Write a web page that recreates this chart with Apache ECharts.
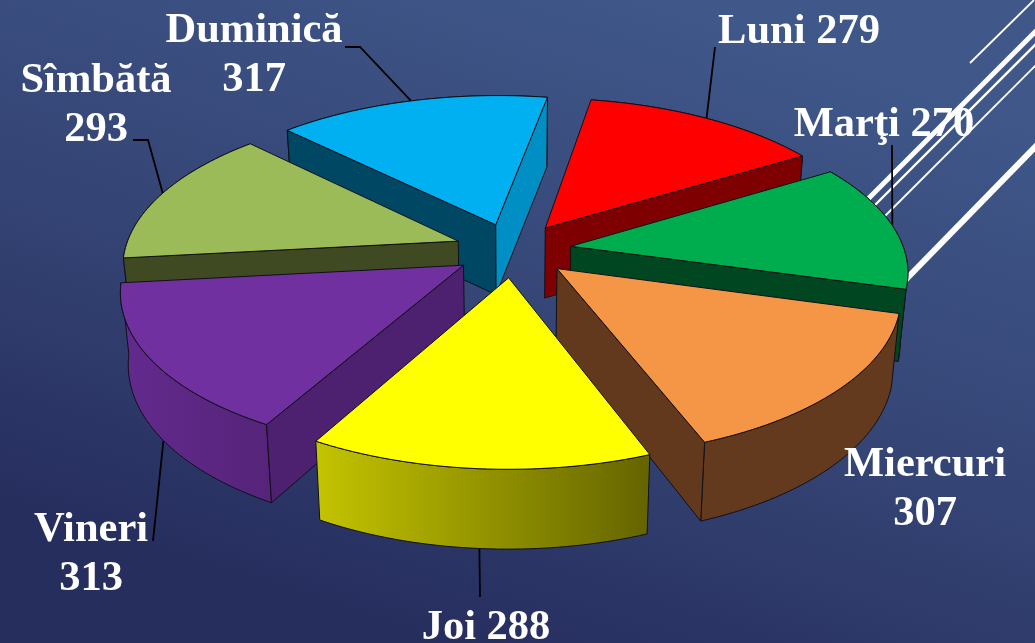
<!DOCTYPE html>
<html>
<head>
<meta charset="utf-8">
<style>html,body{margin:0;padding:0;background:#2f3f70}#c{width:1035px;height:643px}</style>
<script src="https://cdn.jsdelivr.net/npm/echarts@6/dist/echarts.min.js"></script>
</head>
<body>
<div id="c"></div>
<script>
const categories = ['Luni', 'Marţi', 'Miercuri', 'Joi', 'Vineri', 'Sîmbătă', 'Duminică'];
const values = [279, 270, 307, 288, 313, 293, 317];
const labelBreaks = [' ', ' ', '\n', ' ', '\n', '\n', '\n'];

const topColors = ['#ff0000', '#00ad4e', '#f49646', '#ffff00', '#7030a0', '#9bbb59', '#00b0f0'];
const cutColors = ['#7f0000', '#004620', '#63391e', '#808000', '#4d2070', '#404a22', '#004763'];
const cutEndColors = ['#7f0000', '#004620', '#63391e', '#808000', '#4d2070', '#404a22', '#008fc4'];
const wallLeftColors = ['#7f0000', '#006d3a', '#643a1f', '#c4c400', '#622a8e', '#505c2c', '#0090c6'];
const wallRightColors = ['#7f0000', '#006d3a', '#643a1f', '#646400', '#56247a', '#404a22', '#0080b0'];

const labelCenters = [[799, 32], [884, 125], [925, 490], [486, 628], [91, 555], [96, 106], [254, 56]];
const leaderStarts = [[[715, 47]], [[892, 145]], null, [[480, 597]], [[153, 541]], [[133, 140], [148, 140]], [[345, 47], [360, 47]]];
const leaderDepth = [0, 0, 0, 1, 1, 0, 0];
const leaderAngleShift = [0, 0, 0, 0, -1.5, 0, 0];

const START_DEG = 10, CX = 513, CY = 250, SX = 390, SY = 181, PERSP = 0.17;
const RADIUS = 0.855, EXPLODE = 0.15, HEIGHT = 70, FRONT_GROW = 0.14, TAPER = 0.02;

const total = values.reduce((a, b) => a + b, 0);
const starts = [];
values.reduce((acc, v, i) => { starts[i] = acc; return acc + v / total * 360; }, START_DEG);

function project(x, y, z) {
  const w = 1 + PERSP * y;
  return [CX + SX * x / w * (1 - TAPER * z), CY - SY * y / w + HEIGHT * z * (1 + FRONT_GROW * Math.max(0, -y))];
}
function dir(deg) { const r = deg * Math.PI / 180; return [Math.sin(r), Math.cos(r)]; }

function sliceGeom(i, value) {
  const a0 = starts[i], a1 = a0 + value / total * 360, mid = (a0 + a1) / 2;
  const m = dir(mid), ox = m[0] * EXPLODE, oy = m[1] * EXPLODE;
  const arc = z => {
    const out = [];
    for (let k = 0; k <= 40; k++) {
      const d = dir(a0 + (a1 - a0) * k / 40);
      out.push(project(ox + d[0] * RADIUS, oy + d[1] * RADIUS, z));
    }
    return out;
  };
  return { ox, oy, m, mid, top: arc(0), bottom: arc(1), apex: project(ox, oy, 0), apexB: project(ox, oy, 1) };
}

const stroke = { stroke: '#101018', lineWidth: 1, lineJoin: 'round' };
function poly(points, fill) { return { type: 'polygon', shape: { points }, style: Object.assign({ fill }, stroke) }; }

function renderItem(params, api) {
  const i = api.value(0), value = api.value(1);
  const g = sliceGeom(i, value);
  const children = [];
  const pts = g.top, ptsB = g.bottom, Ps = pts[0], Pe = pts[pts.length - 1], PsB = ptsB[0], PeB = ptsB[ptsB.length - 1];

  // leader line below the slice
  if (leaderStarts[i]) {
    const d = dir(g.mid + leaderAngleShift[i]);
    const end = project(g.ox + d[0] * RADIUS, g.oy + d[1] * RADIUS, leaderDepth[i]);
    children.push({ type: 'polyline', shape: { points: leaderStarts[i].concat([end]) }, style: { stroke: '#000', lineWidth: 1.8, fill: 'none' } });
  }

  const xs = pts.map(p => p[0]);
  children.push(poly(pts.concat(ptsB.slice().reverse()), {
    type: 'linear', x: Math.min.apply(null, xs), y: 0, x2: Math.max.apply(null, xs), y2: 0, global: true,
    colorStops: [{ offset: 0, color: wallLeftColors[i] }, { offset: 1, color: wallRightColors[i] }]
  }));
  if (Ps[0] < g.apex[0]) children.push(poly([g.apex, Ps, PsB, g.apexB], cutColors[i]));
  if (g.apex[0] < Pe[0]) children.push(poly([g.apex, Pe, PeB, g.apexB], cutEndColors[i]));
  children.push(poly([g.apex].concat(pts), topColors[i]));

  const c = labelCenters[i];
  children.push({
    type: 'text', z2: 100,
    style: {
      x: c[0], y: c[1], text: categories[i] + labelBreaks[i] + value,
      font: 'bold 42.5px "Liberation Serif", "Times New Roman", serif', fill: '#ffffff',
      align: 'center', verticalAlign: 'middle', lineHeight: 49
    }
  });
  return { type: 'group', children };
}

// back slices first so that front slices cover them
const drawOrder = categories.map((_, i) => i).sort((a, b) =>
  sliceGeom(b, values[b]).m[1] - sliceGeom(a, values[a]).m[1]);
const seriesData = drawOrder.map(i => [i, values[i]]);

const chart = echarts.init(document.getElementById('c'), null, { renderer: 'canvas' });
const deco = [
  [970, 63, 1034, 0, 1.8], [840, 227, 1040, 27, 5], [850, 230, 1040, 40, 2.4],
  [860, 241, 1040, 61, 1.9], [880, 306, 1040, 142, 6]
];
chart.setOption({
  animation: false,
  backgroundColor: {
    type: 'linear', x: 0.62, y: 0, x2: 0.42, y2: 1,
    colorStops: [{ offset: 0, color: '#3f5789' }, { offset: 0.55, color: '#344474' }, { offset: 1, color: '#262e5e' }]
  },
  graphic: deco.map(d => ({
    type: 'line', silent: true, z: 0,
    shape: { x1: d[0], y1: d[1], x2: d[2], y2: d[3] },
    style: { stroke: '#ffffff', lineWidth: d[4] }
  })),
  series: [{
    type: 'custom', coordinateSystem: 'none', z: 5, silent: true,
    renderItem, data: seriesData, clip: false
  }]
});
</script>
</body>
</html>
